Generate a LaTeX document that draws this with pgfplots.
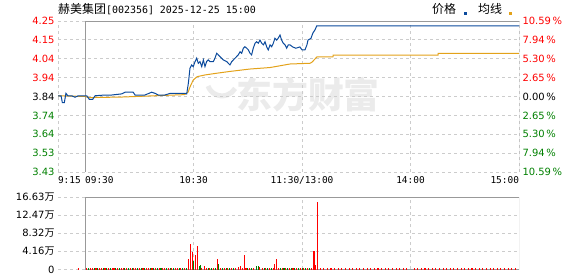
\documentclass[border=0pt]{standalone}
\usepackage{pgfplots}
\pgfplotsset{compat=1.18}
\usepackage{fontspec}
\setmainfont{DejaVu Sans}
\newfontfamily\cjk{Noto Sans CJK SC}
\newfontfamily\mono{DejaVu Sans Mono}
\definecolor{priceblue}{HTML}{0B4A9C}
\definecolor{avgyellow}{HTML}{E3A21A}
\definecolor{upred}{HTML}{FF0000}
\definecolor{downgreen}{HTML}{008000}
\definecolor{gridgray}{HTML}{CCCCCC}
\definecolor{framegray}{HTML}{999999}
\definecolor{wm}{HTML}{EBEBEB}
\pgfplotsset{
  chartbase/.style={
    scale only axis, width=461bp, xmin=0, xmax=255,
    axis line style={draw=none},
    major tick length=0pt,
    tick label style={font=\fontsize{10}{12}\selectfont},
    /pgf/number format/assume math mode=true,
    grid style={gridgray, dash pattern=on 3bp off 3bp, line width=0.8bp},
  }
}
\begin{document}
\begin{tikzpicture}
\path[use as bounding box] (0,0) rectangle (578bp,276bp);
% watermark
\draw[wm, line width=5bp] (208bp,190bp) arc (200:330:15bp);
\node[wm, anchor=center, inner sep=0] at (308bp,181bp) {\fontsize{36}{36}\selectfont\cjk\bfseries 东方财富};
% title and legend
\node[anchor=base west, inner sep=0] at (58bp,262bp) {\fontsize{12}{12}\selectfont\cjk 赫美集团\mono\fontsize{10}{12}\selectfont[002356] 2025-12-25 15:00};
\node[anchor=base west, inner sep=0] at (432bp,262bp) {\fontsize{12}{12}\selectfont\cjk 价格};
\fill[priceblue] (463.5bp,261bp) rectangle (467bp,263.5bp);
\node[anchor=base west, inner sep=0] at (478bp,262bp) {\fontsize{12}{12}\selectfont\cjk 均线};
\fill[avgyellow] (508.5bp,261bp) rectangle (512bp,263.5bp);

% price panel
\begin{axis}[chartbase, height=151bp, at={(58bp,104bp)}, anchor=south west,
  ymin=3.4333, ymax=4.2467,
  ytick={3.4333,3.5350,3.6367,3.7383,3.84,3.9417,4.0433,4.1450,4.2467},
  yticklabels={\textcolor{downgreen}{3.43},\textcolor{downgreen}{3.53},\textcolor{downgreen}{3.64},\textcolor{downgreen}{3.74},\textcolor{black}{3.84},\textcolor{upred}{3.94},\textcolor{upred}{4.04},\textcolor{upred}{4.15},\textcolor{upred}{4.25}},
  xtick={0,15,75,135,195,255},
  xticklabels={\makebox[0pt][l]{9:15},\makebox[0pt][l]{09:30},10:30,11:30/13:00,14:00,\makebox[0pt][r]{15:00}},
  xticklabel style={font=\mono\fontsize{9.5}{11}\selectfont, yshift=-1bp},
  xmajorgrids, ymajorgrids]
\draw[framegray, line width=0.9bp] (axis cs:15,3.4333) rectangle (axis cs:255,4.2467);
\addplot[avgyellow, line width=1bp] coordinates {
(0,3.844) (15,3.840) (17,3.834) (35,3.837) (51,3.843) (70,3.850) (72,3.864) (73,3.891) (74.8,3.929) (77,3.947) (81.3,3.956) (86.8,3.964) (95.1,3.975) (106.2,3.988) (117.3,3.996) (128.3,4.015) (139.4,4.019) (140.5,4.025) (143.3,4.054) (152.1,4.054) (152.2,4.063) (210.2,4.063) (210.3,4.072) (255,4.072)
};
\addplot[priceblue, line width=1bp] coordinates {
(0,3.844) (1.7,3.844) (2.4,3.807) (3.5,3.807) (4.4,3.857) (5.4,3.844) (7.6,3.844) (9.4,3.836) (11.2,3.844) (14,3.844) (15.9,3.844) (17.3,3.825) (19.2,3.825) (20.5,3.844) (26,3.848) (29.7,3.848) (35.2,3.854) (37.1,3.863) (41.6,3.863) (42.6,3.848) (48.1,3.848) (51.8,3.863) (53.7,3.857) (55.5,3.848) (59.2,3.848) (62,3.857) (70.2,3.857) (71.2,3.854) (72.1,3.911) (73,3.992) (73.9,4.010) (74.8,4.001) (75.8,4.028) (76.7,4.046) (77.6,4.019) (78.5,4.028) (79.5,4.001) (80.4,4.037) (81.3,4.001) (82.2,4.028) (83.1,4.037) (84.1,4.028) (85.9,4.028) (86.8,4.046) (87.8,4.073) (88.7,4.064) (89.6,4.055) (91.4,4.037) (93.3,4.028) (95.1,4.010) (96.1,4.028) (97,4.037) (98.8,4.055) (99.7,4.064) (100.7,4.081) (101.6,4.073) (102.5,4.100) (103.4,4.108) (104.4,4.100) (105.3,4.091) (106.2,4.073) (107.1,4.064) (108,4.100) (109,4.127) (109.9,4.135) (110.8,4.127) (111.7,4.144) (112.7,4.127) (113.6,4.118) (114.5,4.135) (115.4,4.108) (116.3,4.091) (117.3,4.118) (118.2,4.108) (119.1,4.127) (120,4.154) (121,4.144) (121.8,4.154) (122.8,4.171) (123.7,4.144) (124.6,4.127) (125.6,4.118) (126.5,4.100) (127.4,4.118) (128.3,4.118) (130,4.106) (131.6,4.100) (133.8,4.107) (135,4.091) (136.6,4.091) (137.7,4.118) (138.3,4.144) (139.9,4.153) (141,4.182) (142.1,4.198) (143.1,4.22) (255,4.22)
};
\end{axis}

% right percentage labels
\begin{axis}[scale only axis, width=461bp, height=151bp, at={(58bp,104bp)}, anchor=south west,
  xmin=0, xmax=255, ymin=-10.59, ymax=10.59,
  axis x line=none, axis y line*=right, axis line style={draw=none},
  major tick length=0pt,
  tick label style={font=\fontsize{10}{12}\selectfont},
  ytick={-10.59,-7.94,-5.30,-2.65,0,2.65,5.30,7.94,10.59},
  yticklabels={\textcolor{downgreen}{10.59\,\%},\textcolor{downgreen}{7.94\,\%},\textcolor{downgreen}{5.30\,\%},\textcolor{downgreen}{2.65\,\%},\textcolor{black}{0.00\,\%},\textcolor{upred}{2.65\,\%},\textcolor{upred}{5.30\,\%},\textcolor{upred}{7.94\,\%},\textcolor{upred}{10.59\,\%}}]
\end{axis}

% volume panel
\begin{axis}[chartbase, height=72.5bp, at={(58bp,6.5bp)}, anchor=south west,
  ymin=0, ymax=16.63,
  ytick={0,4.1575,8.315,12.4725,16.63},
  yticklabels={0,4.16{\cjk 万},8.32{\cjk 万},12.47{\cjk 万},16.63{\cjk 万}},
  xtick={75,135,195}, xticklabels={},
  xmajorgrids, ymajorgrids]
\draw[framegray, line width=0.9bp] (axis cs:15,0) rectangle (axis cs:255,16.63);
% tiny up-minute volumes
\addplot[ycomb, upred, line width=1.1bp] coordinates {
(11.2,0.4) (16,0.3) (18,0.3) (19,0.25) (21,0.3) (23,0.3) (24,0.25) (26,0.3) (28,0.3) (30,0.3) (31,0.25) (33,0.3) (35,0.3) (36,0.25) (38,0.3) (40,0.3) (42,0.3) (43,0.25) (45,0.3) (47,0.3) (49,0.3) (50,0.25) (52,0.3) (54,0.3) (56,0.3) (58,0.3) (59,0.25) (61,0.3) (63,0.3) (65,0.3) (66,0.25) (68,0.3) (70,0.3)
(82,0.3) (84,0.3) (86,0.3) (90,0.3) (92,0.3) (94,0.3) (96,0.3) (98,0.3) (102,0.3) (104,0.3) (106,0.3) (108,0.3) (113,0.3) (115,0.3) (117,0.3) (119,0.3) (122,0.3) (124,0.3) (126,0.3) (128,0.3) (130,0.3) (132,0.3) (134,0.3) (136,0.3) (138,0.3) (140,0.3)
(145,0.3) (147,0.3) (149,0.3) (151,0.3) (153,0.3) (155,0.3) (157,0.3) (159,0.3) (161,0.3) (163,0.3) (165,0.3) (167,0.3) (169,0.3) (171,0.3) (173,0.3) (175,0.3) (177,0.3) (179,0.3) (181,0.3) (183,0.3) (185,0.3) (187,0.3) (189,0.3) (191,0.3) (193,0.3) (197,0.3) (199,0.3) (201,0.3) (203,0.3) (205,0.3) (207,0.3) (209,0.3) (211,0.3) (213,0.3) (215,0.3) (217,0.3) (219,0.3) (221,0.3) (223,0.3) (225,0.3) (227,0.3) (229,0.3) (231,0.3) (233,0.3) (235,0.3) (237,0.3) (239,0.3) (241,0.3) (243,0.3) (245,0.3) (247,0.3) (249,0.3) (251,0.3) (253,0.3)
};
\addplot[ycomb, downgreen, line width=1.1bp] coordinates {
(17,0.3) (20,0.3) (22,0.3) (25,0.3) (27,0.3) (29,0.3) (32,0.3) (34,0.3) (37,0.3) (39,0.3) (41,0.3) (44,0.3) (46,0.3) (48,0.3) (51,0.3) (53,0.3) (55,0.3) (57,0.3) (60,0.3) (62,0.3) (64,0.3) (67,0.3) (69,0.3) (71,0.3)
(83,0.3) (85,0.3) (87,0.3) (91,0.3) (93,0.3) (95,0.3) (97,0.3) (105,0.3) (107,0.3) (114,0.3) (116,0.3) (118,0.3) (123,0.3) (125,0.3) (127,0.3) (129,0.3) (131,0.3) (133,0.3) (135,0.3) (137,0.3) (139,0.3)
};
% larger volumes
\addplot[ycomb, upred, line width=1.1bp] coordinates {
(72,2.41) (73.2,5.85) (74.3,4.01) (75.9,3.33) (77,5.39) (79.6,0.35) (80.9,0.8) (88.1,2.41) (99.6,0.6) (100.7,0.8) (103.4,3.33) (111.7,0.6) (119.6,1.25) (120.7,2.41) (141.6,4.24) (142.4,1.03) (143.5,15.5)
};
\addplot[ycomb, downgreen, line width=1.1bp] coordinates {
(74.8,1.95) (78.2,0.8) (78.7,1.03) (88.7,1.25) (109.9,0.8) (110.8,0.8)
};
\end{axis}
\end{tikzpicture}
\end{document}
